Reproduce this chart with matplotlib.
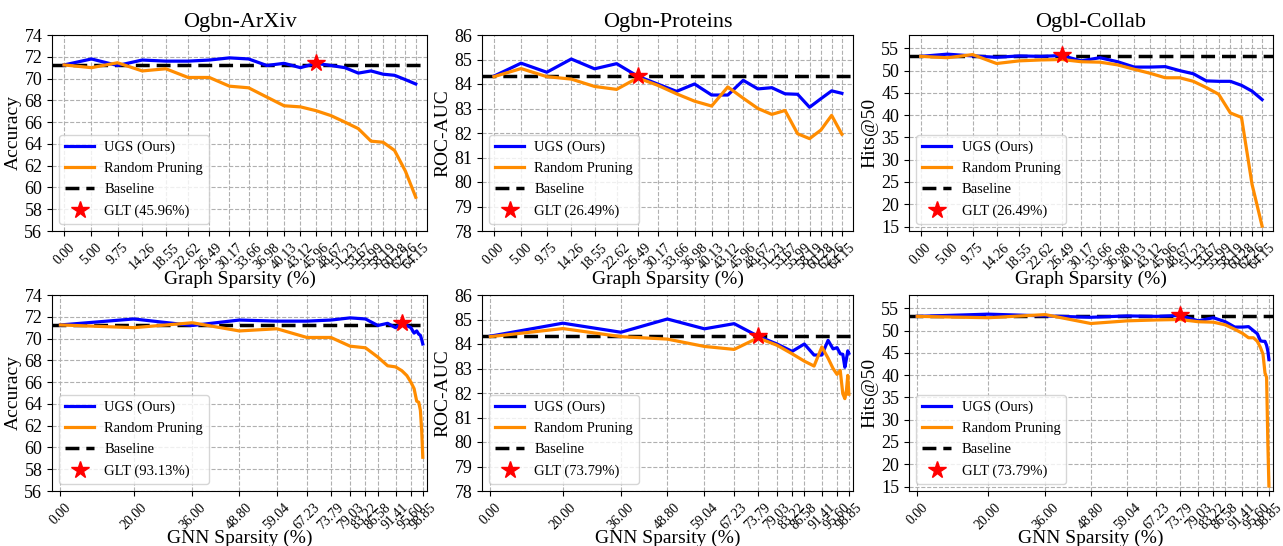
import matplotlib
matplotlib.use('Agg')
import matplotlib.pyplot as plt
from matplotlib import rcParams

rcParams['font.family'] = 'serif'
rcParams['font.serif'] = ['Liberation Serif', 'DejaVu Serif']
rcParams['mathtext.fontset'] = 'stix'

graph_sparsity = [0.00, 5.00, 9.75, 14.26, 18.55, 22.62, 26.49, 30.17, 33.66, 36.98, 40.13,
                  43.12, 45.96, 48.67, 51.23, 53.67, 55.99, 58.19, 60.28, 62.26, 64.15]
gnn_sparsity = [0.00, 20.00, 36.00, 48.80, 59.04, 67.23, 73.79, 79.03, 83.22, 86.58, 89.26,
                91.41, 93.13, 94.50, 95.60, 96.48, 97.19, 97.75, 98.20, 98.56, 98.85]
gnn_ticks = [0.00, 20.00, 36.00, 48.80, 59.04, 67.23, 73.79, 79.03, 83.22, 86.58,
             91.41, 95.60, 98.85]

titles = ['Ogbn-ArXiv', 'Ogbn-Proteins', 'Ogbl-Collab']
ylabels = ['Accuracy', 'ROC-AUC', 'Hits@50']

arxiv_ugs = [71.25, 71.8, 71.2, 71.7, 71.6, 71.6, 71.7, 71.9, 71.8, 71.2, 71.4,
             71.0, 71.4, 71.2, 71.0, 70.5, 70.7, 70.4, 70.3, 69.9, 69.5]
arxiv_rp = [71.25, 71.0, 71.45, 70.7, 70.9, 70.1, 70.1, 69.3, 69.15, 68.3, 67.5,
            67.4, 67.05, 66.6, 66.0, 65.4, 64.25, 64.15, 63.4, 61.5, 59.1]
arxiv_base = 71.2

proteins_ugs = [84.32, 84.85, 84.48, 85.02, 84.62, 84.83, 84.32, 84.0, 83.7, 84.0, 83.55,
                83.55, 84.15, 83.8, 83.85, 83.6, 83.58, 83.05, 83.4, 83.72, 83.62]
proteins_rp = [84.3, 84.63, 84.3, 84.2, 83.9, 83.78, 84.25, 83.95, 83.6, 83.3, 83.1,
               83.88, 83.42, 83.0, 82.76, 82.92, 81.97, 81.77, 82.12, 82.72, 81.95]
proteins_base = 84.32

collab_ugs = [53.2, 53.7, 53.3, 53.0, 53.3, 53.2, 53.4, 52.2, 52.9, 52.0, 50.8,
              50.8, 50.9, 50.0, 49.3, 47.7, 47.6, 47.6, 46.7, 45.4, 43.5]
collab_rp = [53.2, 52.9, 53.6, 51.6, 52.2, 52.4, 52.5, 52.0, 51.9, 51.3, 50.3,
             49.4, 48.4, 48.4, 47.6, 46.2, 44.7, 40.5, 39.5, 24.5, 15.1]
collab_base = 53.2

glt_index = [12, 6, 6]

ylims = [(56, 74), (78, 86), (14, 58)]
yticks = [list(range(56, 75, 2)), list(range(78, 87, 1)), list(range(15, 56, 5))]


def draw_panel(ax, x, ugs, rp, base, glt_i, glt_label, title=None):
    ax.plot(x, ugs, color='blue', linewidth=2.3, label='UGS (Ours)', zorder=3)
    ax.plot(x, rp, color='darkorange', linewidth=2.3, label='Random Pruning', zorder=3)
    ax.axhline(base, color='black', linestyle='--', linewidth=2.5, dashes=(4, 2),
               label='Baseline', zorder=2)
    ax.plot([x[glt_i]], [ugs[glt_i]], linestyle='none', marker='*', color='red',
            markersize=13, label=glt_label, zorder=4)
    ax.grid(True, linestyle='--', color='#b0b0b0', linewidth=0.8)
    ax.legend(loc='lower left', fontsize=10.5, labelspacing=0.55, handletextpad=0.7)
    if title:
        ax.set_title(title, fontsize=16)


def main():
    fig = plt.figure(figsize=(12.83, 5.46), dpi=100)
    lefts = [52, 482, 909]
    rights = [427, 853, 1273]
    data = [(arxiv_ugs, arxiv_rp, arxiv_base),
            (proteins_ugs, proteins_rp, proteins_base),
            (collab_ugs, collab_rp, collab_base)]

    for col in range(3):
        ugs, rp, base = data[col]
        i = glt_index[col]
        w = (rights[col] - lefts[col]) / 1283
        l = lefts[col] / 1283

        # top row: graph sparsity
        ax = fig.add_axes([l, 1 - 231 / 546, w, 196 / 546])
        draw_panel(ax, graph_sparsity, ugs, rp, base, i,
                   'GLT (%.2f%%)' % graph_sparsity[i], titles[col])
        ax.set_xticks(graph_sparsity)
        ax.set_xticklabels(['%.2f' % v for v in graph_sparsity], rotation=45, fontsize=10)
        ax.set_xlim(-2.2, 66.2)
        ax.set_ylim(*ylims[col])
        ax.set_yticks(yticks[col])
        ax.tick_params(axis='y', labelsize=13)
        ax.set_xlabel('Graph Sparsity (%)', fontsize=14, labelpad=-1)
        ax.set_ylabel(ylabels[col], fontsize=14, labelpad=2)

        # bottom row: GNN sparsity
        ax = fig.add_axes([l, 1 - 491 / 546, w, 196 / 546])
        draw_panel(ax, gnn_sparsity, ugs, rp, base, i,
                   'GLT (%.2f%%)' % gnn_sparsity[i])
        ax.set_xticks(gnn_ticks)
        ax.set_xticklabels(['%.2f' % v for v in gnn_ticks], rotation=45, fontsize=10)
        ax.set_xlim(-2.3, 100.0)
        ax.set_ylim(*ylims[col])
        ax.set_yticks(yticks[col])
        ax.tick_params(axis='y', labelsize=13)
        ax.set_xlabel('GNN Sparsity (%)', fontsize=14, labelpad=-2)
        ax.set_ylabel(ylabels[col], fontsize=14, labelpad=2)

    plt.savefig('out.png', dpi=100)


main()
